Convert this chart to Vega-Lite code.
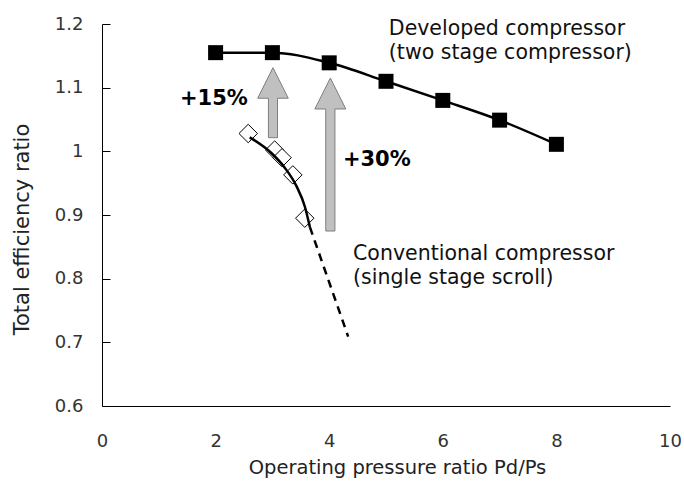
{
  "$schema": "https://vega.github.io/schema/vega-lite/v6.json",
  "width": 568,
  "height": 382,
  "autosize": {"type": "none"},
  "padding": {"left": 102, "top": 24, "right": 14, "bottom": 85},
  "background": "white",
  "config": {
    "view": {"stroke": null},
    "font": "DejaVu Sans",
    "axis": {"grid": false, "domainColor": "#000", "domainWidth": 1, "labelFont": "DejaVu Sans", "titleFont": "DejaVu Sans", "labelColor": "#333", "titleColor": "#222", "titleFontWeight": "normal", "labelFlush": false}
  },
  "datasets": {
    "developed": [
      {"x": 2, "y": 1.155}, {"x": 3, "y": 1.155}, {"x": 4, "y": 1.139}, {"x": 5, "y": 1.110},
      {"x": 6, "y": 1.080}, {"x": 7, "y": 1.049}, {"x": 8, "y": 1.011}
    ],
    "conventional": [
      {"x": 2.574, "y": 1.028}, {"x": 3.04, "y": 1.002}, {"x": 3.17, "y": 0.99},
      {"x": 3.36, "y": 0.963}, {"x": 3.57, "y": 0.895}
    ],
    "convfit": [
      {"x": 2.6, "y": 1.022}, {"x": 2.986, "y": 0.997}, {"x": 3.22, "y": 0.974},
      {"x": 3.426, "y": 0.945}, {"x": 3.572, "y": 0.913}, {"x": 3.66, "y": 0.881}
    ],
    "convdash": [
      {"x": 3.66, "y": 0.881}, {"x": 4.334, "y": 0.709}
    ],
    "labels": [
      {"x": 5.05, "y": 1.1827, "text": "Developed compressor"},
      {"x": 5.05, "y": 1.1450, "text": "(two stage compressor)"},
      {"x": 4.42, "y": 0.8293, "text": "Conventional compressor"},
      {"x": 4.42, "y": 0.7916, "text": "(single stage scroll)"}
    ],
    "gains": [
      {"x": 1.373, "y": 1.0728, "text": "+15%"},
      {"x": 4.241, "y": 0.977, "text": "+30%"}
    ],
    "arrow15": [{"x": 3.01, "y": 1.0764}],
    "arrow30": [{"x": 4.02, "y": 0.995}]
  },
  "layer": [
    {
      "data": {"name": "developed"},
      "mark": {"type": "line", "interpolate": "monotone", "color": "#000", "strokeWidth": 2.5},
      "encoding": {
        "x": {"field": "x", "type": "quantitative", "scale": {"domain": [0, 10], "nice": false},
          "axis": {"values": [0, 2, 4, 6, 8, 10], "format": "~g", "ticks": false, "labelFontSize": 18, "labelPadding": 26,
            "title": "Operating pressure ratio Pd/Ps", "titleFontSize": 19.5, "titleX": 295, "titleY": 52, "titleBaseline": "top"}},
        "y": {"field": "y", "type": "quantitative", "scale": {"domain": [0.6, 1.2], "nice": false, "zero": false},
          "axis": {"values": [0.6, 0.7, 0.8, 0.9, 1.0, 1.1, 1.2], "format": "~g", "tickSize": -8, "tickColor": "#000", "labelFontSize": 18, "labelPadding": 27,
            "title": "Total efficiency ratio", "titleFontSize": 21, "titleX": -80, "titleY": 205, "titleBaseline": "middle"}}
      }
    },
    {
      "data": {"name": "developed"},
      "mark": {"type": "point", "shape": "square", "filled": true, "size": 225, "color": "#000", "opacity": 1},
      "encoding": {"x": {"field": "x", "type": "quantitative"}, "y": {"field": "y", "type": "quantitative"}}
    },
    {
      "data": {"name": "conventional"},
      "mark": {"type": "point", "shape": "diamond", "filled": true, "fill": "#fff", "stroke": "#000", "strokeWidth": 1, "size": 340, "opacity": 1},
      "encoding": {"x": {"field": "x", "type": "quantitative"}, "y": {"field": "y", "type": "quantitative"}}
    },
    {
      "data": {"name": "convfit"},
      "mark": {"type": "line", "interpolate": "monotone", "color": "#000", "strokeWidth": 2.5},
      "encoding": {"x": {"field": "x", "type": "quantitative"}, "y": {"field": "y", "type": "quantitative"}}
    },
    {
      "data": {"name": "convdash"},
      "mark": {"type": "line", "color": "#000", "strokeWidth": 2.5, "strokeDash": [8, 6]},
      "encoding": {"x": {"field": "x", "type": "quantitative"}, "y": {"field": "y", "type": "quantitative"}}
    },
    {
      "data": {"name": "arrow15"},
      "mark": {"type": "point", "shape": "M0,-1L0.437,-0.127L0.13,-0.127L0.13,1L-0.13,1L-0.13,-0.127L-0.437,-0.127Z", "size": 4900, "filled": true, "fill": "#c0c0c0", "stroke": "#7f7f7f", "strokeWidth": 1, "opacity": 1},
      "encoding": {"x": {"field": "x", "type": "quantitative"}, "y": {"field": "y", "type": "quantitative"}}
    },
    {
      "data": {"name": "arrow30"},
      "mark": {"type": "point", "shape": "M0,-1L0.2026,-0.595L0.06,-0.595L0.06,1L-0.06,1L-0.06,-0.595L-0.2026,-0.595Z", "size": 23409, "filled": true, "fill": "#c0c0c0", "stroke": "#7f7f7f", "strokeWidth": 1, "opacity": 1},
      "encoding": {"x": {"field": "x", "type": "quantitative"}, "y": {"field": "y", "type": "quantitative"}}
    },
    {
      "data": {"name": "labels"},
      "mark": {"type": "text", "align": "left", "baseline": "alphabetic", "fontSize": 20.5, "color": "#111", "font": "DejaVu Sans"},
      "encoding": {"x": {"field": "x", "type": "quantitative"}, "y": {"field": "y", "type": "quantitative"}, "text": {"field": "text"}}
    },
    {
      "data": {"name": "gains"},
      "mark": {"type": "text", "align": "left", "baseline": "alphabetic", "fontSize": 21, "fontWeight": "bold", "color": "#000", "font": "DejaVu Sans"},
      "encoding": {"x": {"field": "x", "type": "quantitative"}, "y": {"field": "y", "type": "quantitative"}, "text": {"field": "text"}}
    }
  ]
}
